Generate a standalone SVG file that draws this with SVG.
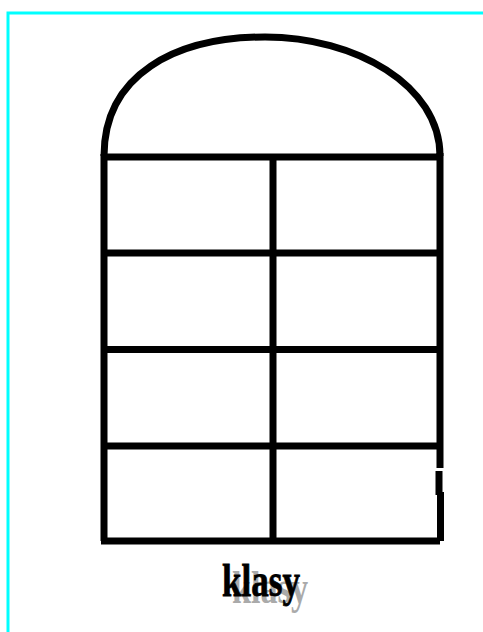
<svg xmlns="http://www.w3.org/2000/svg" width="483" height="632" viewBox="0 0 483 632">
<style>
.f{stroke:#000;stroke-width:7;fill:none}
.b{stroke:#00ffff;stroke-width:3;fill:none}
.t{font-family:"Liberation Serif",serif;font-weight:bold;font-size:46px}
</style>
<rect width="483" height="632" fill="#fff"/>
<g id="border">
<path class="b" d="M8,632 V13 H483"/>
</g>
<g id="window">
<path class="f" d="M104,156 C104,75 175,37 265,37 C355,37 440,85 440,156"/>
<path class="f" d="M104,154 V541"/>
<path class="f" d="M440,153 V468"/>
<path class="f" d="M439,471 V495"/>
<path class="f" d="M440.5,492 V541"/>
<path class="f" d="M273,157 V541"/>
<path class="f" d="M104,157 H440"/>
<path class="f" d="M104,253 H437"/>
<path class="f" d="M104,349.5 H437"/>
<path class="f" d="M104,446 H437"/>
<path class="f" d="M101,541 H440"/>
</g>
<g id="label">
<text class="t" x="232" y="603" fill="#aaaaaa" textLength="76" lengthAdjust="spacingAndGlyphs">klasy</text>
<text class="t" x="222" y="596" fill="#000" stroke="#000" stroke-width="0.8" textLength="78" lengthAdjust="spacingAndGlyphs">klasy</text>
</g>
</svg>
